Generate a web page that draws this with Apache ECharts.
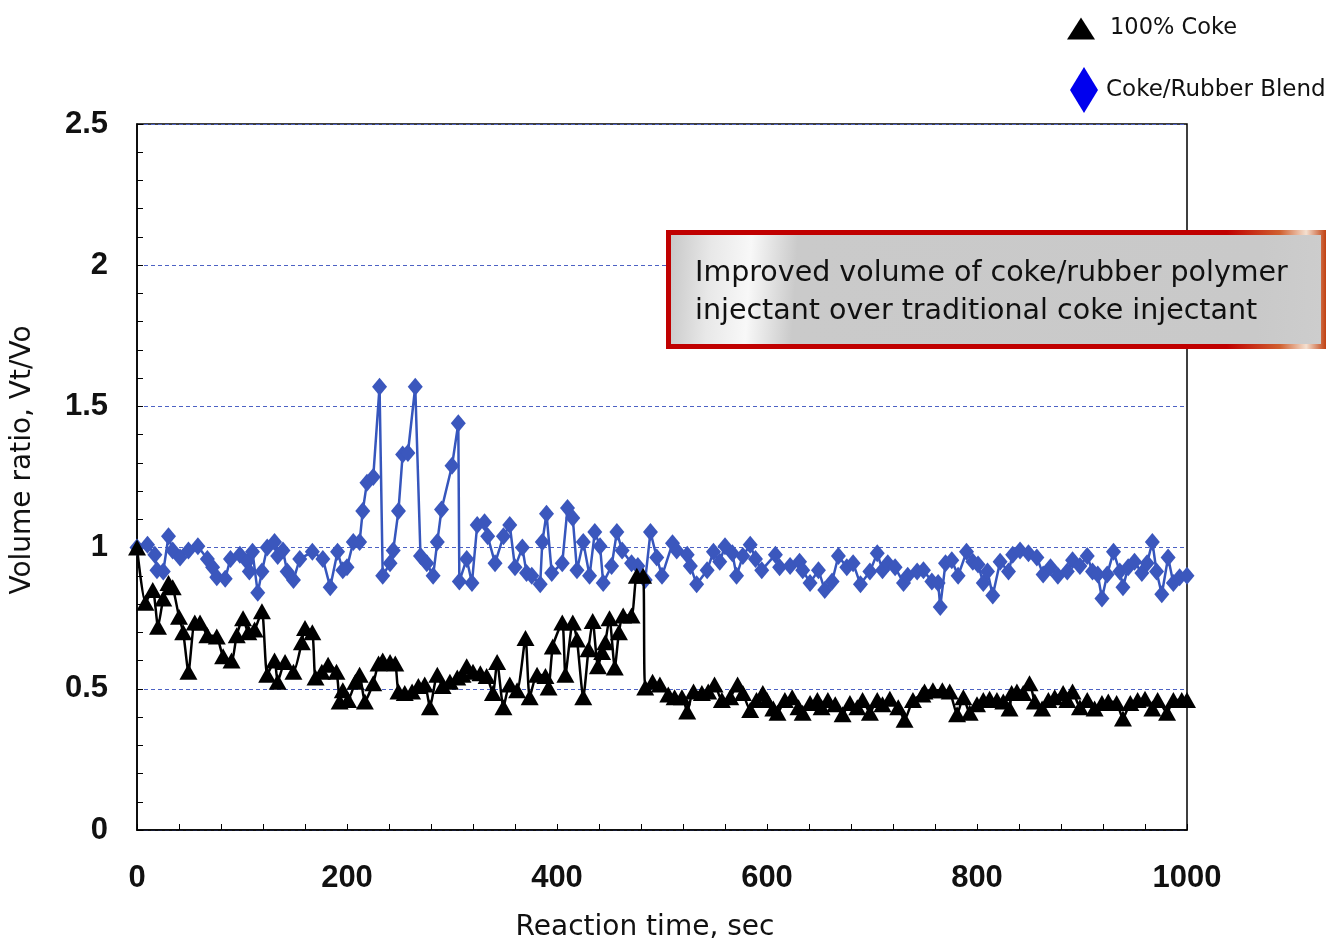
<!DOCTYPE html>
<html>
<head>
<meta charset="utf-8">
<script src="https://cdn.jsdelivr.net/npm/echarts@6/dist/echarts.min.js"></script>
<style>html,body{margin:0;padding:0;background:#fff}#c{width:1344px;height:940px}</style>
</head>
<body>
<div id="c"></div>
<script>
// Reaction time (sec) and volume ratio for the coke/rubber blend
const blendTime = [0,10,17,19,25,30,34,41,49,58,67,72,76,84,89,98,105,107,110,115,119,124,131,134,139,143,149,155,167,177,184,191,196,200,206,212,215,219,225,231,234,241,244,249,253,258,265,270,276,282,286,290,300,306,307,314,319,324,331,334,341,349,355,360,367,371,376,384,386,390,395,405,410,415,419,425,431,436,441,444,452,457,462,471,477,484,489,495,500,510,514,524,527,533,543,549,555,560,567,571,577,584,589,595,608,612,622,631,634,641,649,655,662,668,676,682,689,698,705,710,715,722,730,734,743,749,757,763,765,770,776,782,790,796,801,806,810,815,822,830,834,841,849,857,863,870,877,886,891,898,905,910,915,919,924,930,936,939,944,950,957,962,967,971,976,982,987,993,1000];
const blendRatio = [1.0,1.01,0.975,0.92,0.915,1.04,0.99,0.965,0.99,1.005,0.96,0.93,0.895,0.89,0.96,0.975,0.95,0.915,0.985,0.84,0.915,1.0,1.02,0.97,0.99,0.915,0.885,0.96,0.985,0.96,0.86,0.985,0.92,0.93,1.02,1.02,1.13,1.23,1.25,1.57,0.90,0.945,0.99,1.13,1.33,1.335,1.57,0.97,0.945,0.90,1.02,1.135,1.29,1.44,0.88,0.96,0.875,1.08,1.09,1.04,0.945,1.04,1.08,0.93,1.0,0.91,0.90,0.87,1.02,1.12,0.91,0.945,1.14,1.105,0.92,1.02,0.90,1.055,1.005,0.875,0.935,1.055,0.99,0.945,0.935,0.885,1.055,0.965,0.90,1.015,0.99,0.975,0.935,0.87,0.92,0.985,0.95,1.005,0.98,0.90,0.97,1.01,0.96,0.92,0.975,0.93,0.935,0.95,0.92,0.875,0.92,0.85,0.88,0.97,0.93,0.945,0.87,0.915,0.98,0.92,0.945,0.93,0.875,0.90,0.915,0.92,0.88,0.875,0.79,0.945,0.955,0.90,0.985,0.95,0.94,0.875,0.915,0.83,0.95,0.915,0.975,0.99,0.98,0.965,0.905,0.93,0.90,0.915,0.955,0.935,0.97,0.915,0.905,0.82,0.905,0.985,0.915,0.86,0.93,0.95,0.91,0.945,1.02,0.915,0.835,0.965,0.875,0.895,0.90];

// Reaction time (sec) and volume ratio for 100% coke
const cokeTime = [0,8,15,20,25,30,34,40,44,49,55,60,67,76,82,90,95,101,106,112,119,124,131,134,141,149,157,160,167,170,176,182,190,193,196,201,208,212,217,225,230,234,241,246,249,255,262,268,274,279,286,291,298,305,310,314,320,327,333,339,343,349,355,362,370,374,381,389,392,396,405,408,415,419,425,430,434,439,443,446,450,455,459,463,471,476,482,484,491,498,506,512,519,524,530,538,544,550,557,565,572,577,584,590,596,600,606,610,617,624,630,634,641,648,652,658,665,672,679,686,691,698,705,710,717,725,731,739,748,750,758,767,774,781,787,793,800,806,812,819,825,831,833,838,844,850,855,862,868,874,882,886,891,898,905,912,919,925,933,939,946,953,960,967,972,981,987,995,1000];
const cokeRatio = [1.0,0.805,0.85,0.72,0.82,0.875,0.86,0.755,0.70,0.56,0.735,0.735,0.69,0.685,0.615,0.60,0.69,0.75,0.70,0.71,0.775,0.55,0.60,0.525,0.595,0.56,0.665,0.715,0.70,0.54,0.56,0.585,0.56,0.455,0.495,0.46,0.525,0.55,0.455,0.52,0.59,0.60,0.595,0.59,0.49,0.485,0.49,0.51,0.515,0.435,0.55,0.51,0.525,0.54,0.55,0.58,0.56,0.555,0.545,0.485,0.595,0.435,0.515,0.495,0.68,0.47,0.55,0.545,0.505,0.65,0.735,0.55,0.735,0.675,0.47,0.64,0.74,0.58,0.63,0.665,0.75,0.575,0.70,0.76,0.76,0.90,0.90,0.505,0.525,0.515,0.48,0.47,0.47,0.42,0.49,0.485,0.49,0.515,0.46,0.47,0.515,0.485,0.425,0.46,0.485,0.46,0.43,0.415,0.46,0.47,0.435,0.415,0.45,0.46,0.435,0.46,0.445,0.41,0.45,0.435,0.46,0.415,0.46,0.445,0.465,0.435,0.39,0.46,0.48,0.49,0.495,0.495,0.49,0.41,0.47,0.415,0.445,0.46,0.465,0.46,0.455,0.43,0.485,0.49,0.485,0.52,0.455,0.43,0.46,0.47,0.485,0.46,0.49,0.435,0.46,0.43,0.45,0.455,0.45,0.395,0.45,0.46,0.465,0.43,0.46,0.415,0.46,0.46,0.46];

const xTicks = [0,200,400,600,800,1000];
const yTicks = [0,0.5,1,1.5,2,2.5];

const pair = (a,b)=>a.map((t,i)=>[t,b[i]]);

const chart = echarts.init(document.getElementById('c'));
chart.setOption({
  animation:false,
  backgroundColor:'#fff',
  grid:{left:137,right:157,top:124,bottom:110,show:true,borderColor:'#000',borderWidth:1.5,
        backgroundColor:'transparent',containLabel:false,outerBoundsMode:'none'},
  legend:[
    {data:[{name:'100% Coke',icon:'triangle',itemStyle:{color:'#000'}}],left:1062,top:12,itemWidth:28,itemHeight:22,
     textStyle:{fontFamily:'DejaVu Sans',fontSize:22.5,color:'#111',padding:[0,0,0,10]}},
    {data:[{name:'Coke/Rubber Blend',icon:'diamond',itemStyle:{color:'#0000ee'}}],left:1065,top:62,itemWidth:28,itemHeight:46,
     textStyle:{fontFamily:'DejaVu Sans',fontSize:23,color:'#111',padding:[0,0,0,3]}}
  ],
  xAxis:{type:'value',min:0,max:1000,interval:200,
    name:'Reaction time, sec',nameLocation:'middle',nameGap:84,
    nameTextStyle:{fontFamily:'DejaVu Sans',fontSize:28,color:'#111',padding:[0,34,0,0]},
    axisLine:{lineStyle:{color:'#000',width:1.5}},
    axisTick:{inside:true,length:6,lineStyle:{color:'#000'}},
    minorTick:{show:true,splitNumber:5,length:6,lineStyle:{color:'#000'}},
    axisLabel:{margin:33,fontFamily:'Liberation Sans',fontWeight:'bold',fontSize:31,color:'#111',
      formatter:v=>xTicks.includes(v)?String(v):''},
    splitLine:{show:false}},
  yAxis:{type:'value',min:0,max:2.5,interval:0.5,
    name:'Volume ratio, Vt/Vo',nameLocation:'middle',nameGap:100,nameRotate:90,
    nameTextStyle:{fontFamily:'DejaVu Sans',fontSize:28,color:'#111',padding:[0,0,0,34]},
    axisLine:{lineStyle:{color:'#000',width:1.5}},
    axisTick:{inside:true,length:6,lineStyle:{color:'#000'}},
    minorTick:{show:true,splitNumber:5,length:6,lineStyle:{color:'#000'}},
    axisLabel:{margin:29,fontFamily:'Liberation Sans',fontWeight:'bold',fontSize:31,color:'#111',
      formatter:v=>yTicks.includes(v)?String(v):''},
    splitLine:{show:true,lineStyle:{color:'#4d62c4',type:[4,3],width:1}}},
  series:[
    {name:'Coke/Rubber Blend',type:'line',data:pair(blendTime,blendRatio),z:2,
     symbol:'diamond',symbolSize:[15,18],
     lineStyle:{color:'#3656bd',width:2.5},itemStyle:{color:'#3b57bd'}},
    {name:'100% Coke',type:'line',data:pair(cokeTime,cokeRatio),z:3,smooth:0.2,
     symbol:'triangle',symbolSize:[18,16],
     lineStyle:{color:'#000',width:2.5},itemStyle:{color:'#000'}}
  ],
  graphic:[
    {type:'rect',left:666,top:230,z:100,
     shape:{width:655,height:114},
     style:{
       fill:new echarts.graphic.LinearGradient(0,0,1,0.35,[
         {offset:0,color:'#c4c4c4'},{offset:0.07,color:'#e8e8e8'},{offset:0.13,color:'#f8f8f8'},{offset:0.2,color:'#cacaca'},
         {offset:0.9,color:'#c9c9c9'},{offset:1,color:'#cdcdcd'}]),
       stroke:new echarts.graphic.LinearGradient(0,0,1,0,[
         {offset:0,color:'#c00000'},{offset:0.85,color:'#c00000'},{offset:0.93,color:'#d06030'},
         {offset:0.97,color:'#f4e0d0'},{offset:1,color:'#c04010'}]),
       lineWidth:5}},
    {type:'text',left:695,top:255,z:101,
     style:{text:'Improved volume of coke/rubber polymer\ninjectant over traditional coke injectant',
       fontFamily:'DejaVu Sans',fontSize:28.5,lineHeight:38,fill:'#111'}}
  ]
});
</script>
</body>
</html>
